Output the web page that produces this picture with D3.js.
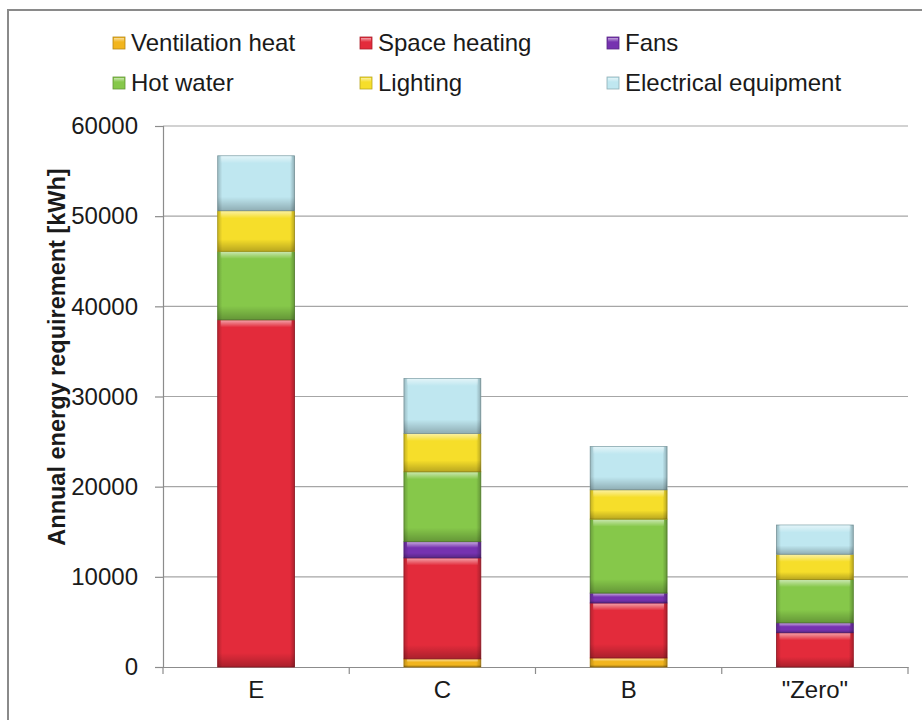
<!DOCTYPE html>
<html>
<head>
<meta charset="utf-8">
<script src="https://cdn.jsdelivr.net/npm/d3@7"></script>
<style>
  html, body { margin: 0; padding: 0; background: #fff; }
  svg { display: block; font-family: "Liberation Sans", Arial, sans-serif; }
</style>
</head>
<body>
<svg id="chart" width="922" height="720"></svg>
<script>
// Annual energy requirement per building class, kWh
const categories = ['E', 'C', 'B', '"Zero"'];
const ventilationHeat = [0, 900, 1000, 0];
const spaceHeating = [38500, 11200, 6100, 3800];
const fans = [0, 1800, 1100, 1100];
const hotWater = [7600, 7750, 8200, 4800];
const lighting = [4500, 4250, 3250, 2800];
const electricalEquipment = [6100, 6100, 4800, 3250];

const seriesNames = ['Ventilation heat', 'Space heating', 'Fans', 'Hot water', 'Lighting', 'Electrical equipment'];
const seriesValues = [ventilationHeat, spaceHeating, fans, hotWater, lighting, electricalEquipment];
const seriesColors = ['#f2b51e', '#e32b3b', '#7632b0', '#86c84a', '#f6de2a', '#bfe7f0'];
const yTicks = [0, 10000, 20000, 30000, 40000, 50000, 60000];

const svg = d3.select('#chart');
const W = 922, H = 720;
const plot = { left: 163, right: 908, top: 126, bottom: 667 };

// outer frame
svg.append('rect')
  .attr('x', 8).attr('y', 10).attr('width', W + 20).attr('height', H + 20)
  .attr('fill', 'none').attr('stroke', '#8a8a8a').attr('stroke-width', 2);

const x = d3.scaleBand().domain(categories).range([plot.left, plot.right]).paddingInner(0).paddingOuter(0);
const y = d3.scaleLinear().domain([0, 60000]).range([plot.bottom, plot.top]);
const barW = x.bandwidth() * 0.413;

// table of rows for d3.stack
const rows = categories.map((c, i) => {
  const r = { cat: c };
  seriesNames.forEach((n, k) => { r[n] = seriesValues[k][i]; });
  return r;
});
const stacked = d3.stack().keys(seriesNames)(rows);

// gradients for bevelled segments
const defs = svg.append('defs');
const sideShade = defs.append('linearGradient').attr('id', 'sideShade')
  .attr('x1', 0).attr('x2', 1).attr('y1', 0).attr('y2', 0);
[[0, '#000', 0.2], [0.06, '#000', 0.0], [0.94, '#000', 0.0], [1, '#000', 0.25]].forEach(s =>
  sideShade.append('stop').attr('offset', s[0]).attr('stop-color', s[1]).attr('stop-opacity', s[2]));
const topGlow = defs.append('linearGradient').attr('id', 'topGlow')
  .attr('x1', 0).attr('x2', 0).attr('y1', 0).attr('y2', 1);
[[0, '#fff', 0.55], [1, '#fff', 0.0]].forEach(s =>
  topGlow.append('stop').attr('offset', s[0]).attr('stop-color', s[1]).attr('stop-opacity', s[2]));
const bottomShade = defs.append('linearGradient').attr('id', 'bottomShade')
  .attr('x1', 0).attr('x2', 0).attr('y1', 0).attr('y2', 1);
[[0, '#000', 0.0], [1, '#000', 0.25]].forEach(s =>
  bottomShade.append('stop').attr('offset', s[0]).attr('stop-color', s[1]).attr('stop-opacity', s[2]));

// gridlines
svg.append('g').selectAll('line').data(yTicks.slice(1)).join('line')
  .attr('x1', plot.left).attr('x2', plot.right)
  .attr('y1', d => y(d)).attr('y2', d => y(d))
  .attr('stroke', '#a6a6a6').attr('stroke-width', 1.2);

// y axis
const yAxis = svg.append('g').attr('transform', `translate(${plot.left},0)`)
  .call(d3.axisLeft(y).tickValues(yTicks).tickFormat(d3.format('d')).tickSize(8).tickPadding(17));
yAxis.select('.domain').attr('stroke', '#8c8c8c').attr('stroke-width', 1.2);
yAxis.selectAll('.tick line').attr('stroke', '#8c8c8c').attr('stroke-width', 1.2);
yAxis.selectAll('.tick text').attr('font-size', 24).attr('fill', '#1a1a1a')
  .attr('font-family', '"Liberation Sans", Arial, sans-serif');

// x axis
const xAxis = svg.append('g').attr('transform', `translate(0,${plot.bottom})`)
  .call(d3.axisBottom(x).tickSize(0).tickPadding(14));
xAxis.select('.domain').attr('stroke', '#8c8c8c').attr('stroke-width', 1.2);
xAxis.selectAll('.tick text').attr('font-size', 24).attr('fill', '#1a1a1a').attr('dy', '0.71em')
  .attr('font-family', '"Liberation Sans", Arial, sans-serif');
// category divider ticks
const dividers = d3.range(categories.length + 1).map(i => plot.left + i * x.step());
svg.append('g').selectAll('line').data(dividers).join('line')
  .attr('x1', d => d).attr('x2', d => d)
  .attr('y1', plot.bottom).attr('y2', plot.bottom + 7)
  .attr('stroke', '#8c8c8c').attr('stroke-width', 1.2);

// stacked bars
const layers = svg.append('g').selectAll('g').data(stacked).join('g');
layers.each(function (layer, k) {
  const col = seriesColors[k];
  const g = d3.select(this);
  layer.forEach(seg => {
    const v = seg[1] - seg[0];
    if (v <= 0) return;
    const x0 = x(seg.data.cat) + (x.bandwidth() - barW) / 2;
    const y0 = y(seg[1]);
    const h = y(seg[0]) - y(seg[1]);
    const s = g.append('g');
    s.append('rect').attr('x', x0).attr('y', y0).attr('width', barW).attr('height', h)
      .attr('fill', col).attr('stroke', d3.color(col).darker(0.9)).attr('stroke-width', 0.8);
    s.append('rect').attr('x', x0).attr('y', y0).attr('width', barW).attr('height', h)
      .attr('fill', 'url(#sideShade)');
    const gh = Math.min(7, h * 0.35);
    s.append('rect').attr('x', x0 + 3).attr('y', y0 + 0.5).attr('width', barW - 6).attr('height', gh)
      .attr('fill', 'url(#topGlow)');
    const bh = Math.min(h * 0.3, 14);
    s.append('rect').attr('x', x0).attr('y', y0 + h - bh).attr('width', barW).attr('height', bh)
      .attr('fill', 'url(#bottomShade)');
  });
});

// y axis title
svg.append('text')
  .attr('transform', 'translate(65,357) rotate(-90)')
  .attr('text-anchor', 'middle')
  .attr('font-size', 23.5).attr('font-weight', 'bold').attr('fill', '#1a1a1a')
  .text('Annual energy requirement [kWh]');

// legend
const legCols = [113, 360, 607];
const legRows = [51, 91];
const legend = svg.append('g').selectAll('g').data(seriesNames).join('g')
  .attr('transform', (d, i) => `translate(${legCols[i % 3]},${legRows[Math.floor(i / 3)]})`);
legend.append('rect').attr('x', 0).attr('y', -14).attr('width', 12).attr('height', 12)
  .attr('fill', (d, i) => seriesColors[i])
  .attr('stroke', (d, i) => d3.color(seriesColors[i]).darker(0.8)).attr('stroke-width', 0.8);
legend.append('rect').attr('x', 1).attr('y', -13).attr('width', 10).attr('height', 4)
  .attr('fill', 'url(#topGlow)');
legend.append('text').attr('x', 18).attr('y', 0)
  .attr('font-size', 24).attr('fill', '#1a1a1a')
  .text(d => d);
</script>
</body>
</html>
